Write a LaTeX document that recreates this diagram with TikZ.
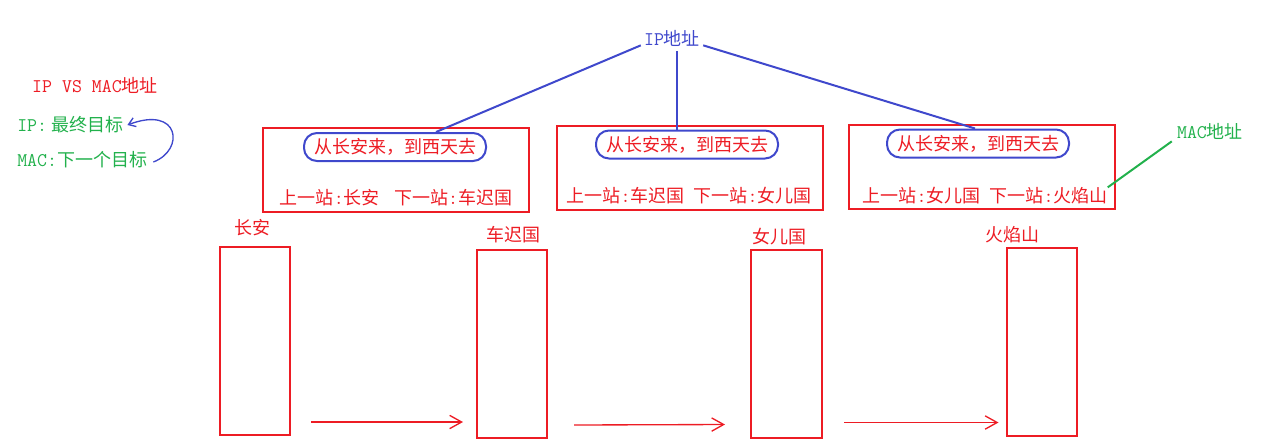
\documentclass[tikz,border=0pt]{standalone}
\usepackage{fontspec}
\usetikzlibrary{positioning,arrows.meta,calc}
\newfontfamily\cjk{Noto Sans CJK SC}
\newcommand{\pxu}{0.75pt}
\newcommand{\lat}{\fontsize{14.5}{16}\selectfont\ttfamily}
\newcommand{\cln}{{\lat:}}
\definecolor{pred}{RGB}{237,28,36}
\definecolor{pblue}{RGB}{63,72,204}
\definecolor{pgreen}{RGB}{34,177,76}
\tikzset{
    txt/.style={font=\fontsize{13.5}{16}\selectfont\cjk, inner sep=0pt},
    stopbox/.style={draw=pred, line width=1.5pt, minimum width=70*\pxu, minimum height=188*\pxu, inner sep=0pt},
    hopbox/.style={draw=pred, line width=1.5pt, minimum width=266*\pxu, minimum height=84*\pxu, inner sep=0pt},
    ipoval/.style={txt, text=pred, draw=pblue, line width=1.5pt, rounded corners=13*\pxu, minimum width=182*\pxu, minimum height=28*\pxu},
    arr/.style={draw=pred, line width=1pt, -{Straight Barb[length=9pt,width=10pt]}},
}

\begin{document}
\begin{tikzpicture}[x=0.75pt,y=-0.75pt]
    \useasboundingbox (0,0) rectangle (1267,444);
    %Legend
    \node[txt,text=pred] (title) at (95,85) {{\lat IP VS MAC}地址};
    \node[txt,text=pgreen,anchor=west] (ipgoal) at (17,125) {{\lat IP:} 最终目标};
    \node[txt,text=pgreen,anchor=west] (macgoal) at (17,160) {{\lat MAC:}下一个目标};
    \draw[pblue,line width=1pt,-{Straight Barb[length=5pt,width=7pt]}] ($(macgoal.east)+(6,2)$) .. controls (185,150) and (180,105) .. ($(ipgoal.east)+(4,0)$);
    %Hops
    \node[hopbox] (hop1) at (396,169.5) {};
    \node[hopbox] (hop2) at (689.5,167.5) {};
    \node[hopbox] (hop3) at (981.5,166.5) {};
    \node[ipoval] (ip1) at (395,147) {从长安来，到西天去};
    \node[ipoval] (ip2) at (687,144.5) {从长安来，到西天去};
    \node[ipoval] (ip3) at (978,143.5) {从长安来，到西天去};
    \node[txt,text=pred] (mac1) at (396,198) {上一站\cln 长安\hspace{0.8em}下一站\cln 车迟国};
    \node[txt,text=pred] (mac2) at (689,196) {上一站\cln 车迟国\hspace{0.5em}下一站\cln 女儿国};
    \node[txt,text=pred] (mac3) at (985,196) {上一站\cln 女儿国\hspace{0.5em}下一站\cln 火焰山};
    %IP address
    \node[txt,text=pblue] (ip) at (672,38) {{\lat IP}地址};
    \draw[pblue,line width=1.5pt] ($(ip.south west)+(-3,-1)$) -- ($(ip1.north)+(41,0)$);
    \draw[pblue,line width=1.5pt] ($(ip.south)+(5,5)$) -- ($(ip2.north)+(-10,0)$);
    \draw[pblue,line width=1.5pt] ($(ip.south east)+(3,-1)$) -- ($(ip3.north)+(-3,0)$);
    %MAC address
    \node[txt,text=pgreen] (mac) at (1210,131) {{\lat MAC}地址};
    \draw[pgreen,line width=1.5pt] ($(mac.south west)+(-5,2)$) -- (mac3.north east);
    %Stations
    \node[txt,text=pred] (lbl1) at (252,228) {长安};
    \node[txt,text=pred] (lbl2) at (513,235) {车迟国};
    \node[txt,text=pred] (lbl3) at (779,237) {女儿国};
    \node[txt,text=pred] (lbl4) at (1012,235) {火焰山};
    \node[stopbox] (s1) at (255,341) {};
    \node[stopbox] (s2) at (512,344) {};
    \node[stopbox,minimum width=71*\pxu] (s3) at (786.5,343.5) {};
    \node[stopbox] (s4) at (1041.5,341.5) {};
    %Hops between stations
    \draw[arr] ($(s1.south east)+(20,-14)$) -- ($(s2.south west)+(-13,-17)$);
    \draw[arr] ($(s2.south east)+(26,-14)$) -- ($(s3.south west)+(-25,-14)$);
    \draw[arr] ($(s3.south east)+(21,-16)$) -- ($(s4.south west)+(-7,-14)$);
\end{tikzpicture}
\end{document}
